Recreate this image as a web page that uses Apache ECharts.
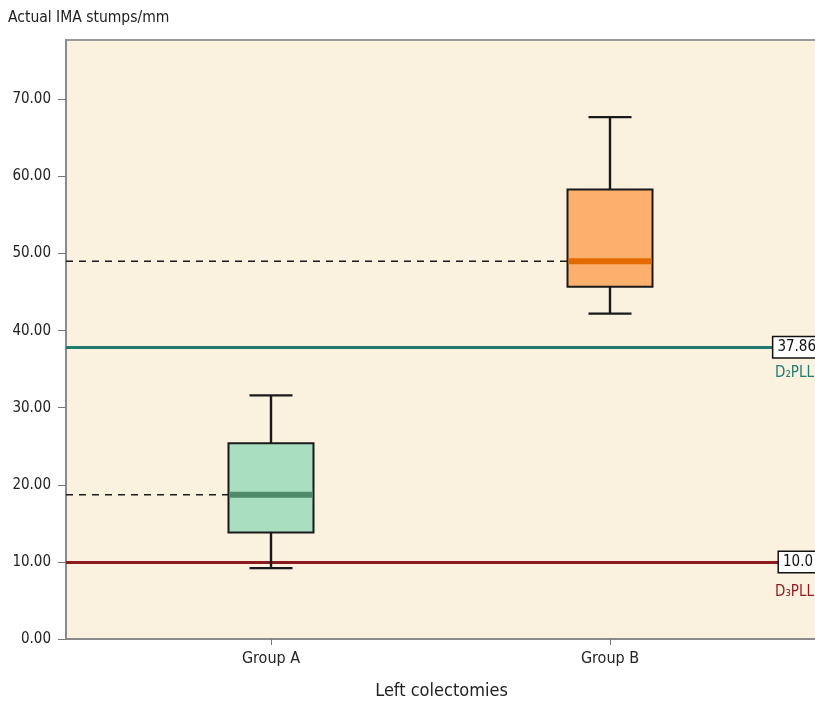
<!DOCTYPE html>
<html>
<head>
<meta charset="utf-8">
<script src="https://cdn.jsdelivr.net/npm/echarts@6/dist/echarts.min.js"></script>
<style>
  html, body { margin: 0; padding: 0; background: #ffffff; }
  #chart { width: 815px; height: 704px; }
</style>
</head>
<body>
<div id="chart"></div>
<script>
// Groups shown on the horizontal axis
const categories = ['Group A', 'Group B'];
// Five-number summaries: [min, Q1, median, Q3, max]
const groupA = [9.2, 13.8, 18.7, 25.4, 31.6];
const groupB = [42.2, 45.7, 49.0, 58.3, 67.7];
// Reference levels and their names
const refValues = [37.86, 10.0];
const refLabels = ['37.86', '10.0'];
const refNames = ['D\u2082PLL', 'D\u2083PLL'];
// Y tick values
const yTicks = [0, 10, 20, 30, 40, 50, 60, 70];

const FONT = 'DejaVu Sans Condensed, DejaVu Sans';
const boxFill = ['#a9dfc0', '#fdb06e'];
const medianColor = ['#4f8a6d', '#e26a00'];
const refColors = ['#1f7a6f', '#8c1a1f'];
const refValueShift = [-3, 0];
const refNameDrop = [18, 23];

const chart = echarts.init(document.getElementById('chart'));

const boxData = [groupA, groupB].map((s, i) => [i].concat(s));

function renderBox(params, api) {
  const i = api.value(0);
  const x = api.coord([i, 0])[0];
  const yMin = api.coord([i, api.value(1)])[1];
  const yQ1 = api.coord([i, api.value(2)])[1];
  const yMed = api.coord([i, api.value(3)])[1];
  const yQ3 = api.coord([i, api.value(4)])[1];
  const yMax = api.coord([i, api.value(5)])[1];
  const bw = 85, cw = 43;
  const left = x - bw / 2;
  const gx = params.coordSys.x;
  const black = { stroke: '#1a1a1a', lineWidth: 2.4 };
  return {
    type: 'group',
    children: [
      // dashed guide from the axis to the median
      { type: 'line', shape: { x1: gx, y1: yMed, x2: left, y2: yMed },
        style: { stroke: '#1a1a1a', lineWidth: 1.5, lineDash: [7, 6] } },
      // whiskers
      { type: 'line', shape: { x1: x, y1: yQ3, x2: x, y2: yMax }, style: black },
      { type: 'line', shape: { x1: x, y1: yQ1, x2: x, y2: yMin }, style: black },
      { type: 'line', shape: { x1: x - cw / 2, y1: yMax, x2: x + cw / 2, y2: yMax }, style: black },
      { type: 'line', shape: { x1: x - cw / 2, y1: yMin, x2: x + cw / 2, y2: yMin }, style: black },
      // box
      { type: 'rect', shape: { x: left, y: yQ3, width: bw, height: yQ1 - yQ3 },
        style: { fill: boxFill[i], stroke: '#1a1a1a', lineWidth: 2 } },
      // median bar
      { type: 'rect', shape: { x: left + 1, y: yMed - 3, width: bw - 2, height: 6 },
        style: { fill: medianColor[i] } }
    ]
  };
}

const refLines = [];
refValues.forEach((v, k) => {
  refLines.push({
    yAxis: v,
    lineStyle: { color: refColors[k], width: 3, type: 'solid' },
    label: {
      show: true, position: 'insideEnd', distance: refValueShift[k],
      formatter: refLabels[k],
      color: '#111', fontFamily: FONT, fontSize: 15,
      backgroundColor: '#ffffff', borderColor: '#111', borderWidth: 1.5,
      padding: [3, 4, 2, 4]
    }
  });
  refLines.push({
    yAxis: v,
    lineStyle: { color: 'rgba(0,0,0,0)', width: 0 },
    label: {
      show: true, position: 'insideEndBottom', distance: [3, refNameDrop[k]],
      formatter: refNames[k],
      color: refColors[k], fontFamily: FONT, fontSize: 15
    }
  });
});

chart.setOption({
  animation: false,
  title: {
    text: 'Actual IMA stumps/mm',
    left: 3, top: 5,
    textStyle: { fontFamily: FONT, fontSize: 15.5, fontWeight: 'normal', color: '#222' }
  },
  grid: {
    left: 66, top: 40, right: -2, bottom: 65,
    outerBoundsMode: 'none',
    containLabel: false,
    show: true, backgroundColor: '#faf1de',
    borderColor: '#9a9a9a', borderWidth: 2
  },
  xAxis: {
    type: 'value',
    min: -0.6047, max: 1.6106,
    splitLine: { show: false },
    axisLine: { show: true, onZero: false, lineStyle: { color: '#8a8a8a', width: 2 } },
    axisTick: { show: true, customValues: [0, 1], length: 6, lineStyle: { color: '#777' } },
    axisLabel: {
      customValues: [0, 1],
      formatter: v => categories[Math.round(v)] || '',
      fontFamily: FONT, fontSize: 16, color: '#222', margin: 12
    },
    name: 'Left colectomies',
    nameLocation: 'middle', nameGap: 43,
    nameTextStyle: { fontFamily: FONT, fontSize: 18, color: '#222' }
  },
  yAxis: {
    type: 'value',
    min: 0, max: 77.7,
    splitLine: { show: false },
    axisLine: { show: true, onZero: false, lineStyle: { color: '#8a8a8a', width: 2 } },
    axisTick: { show: true, customValues: yTicks, length: 8, lineStyle: { color: '#777' } },
    axisLabel: {
      customValues: yTicks,
      formatter: v => v.toFixed(2),
      fontFamily: FONT, fontSize: 15, color: '#222', margin: 15
    }
  },
  series: [
    {
      type: 'line',
      data: [],
      silent: true,
      z: 1,
      markLine: {
        silent: true, symbol: 'none', z: 1,
        data: refLines
      }
    },
    {
      type: 'custom',
      z: 3,
      renderItem: renderBox,
      encode: { x: 0, y: [1, 2, 3, 4, 5] },
      data: boxData
    }
  ]
});
</script>
</body>
</html>
